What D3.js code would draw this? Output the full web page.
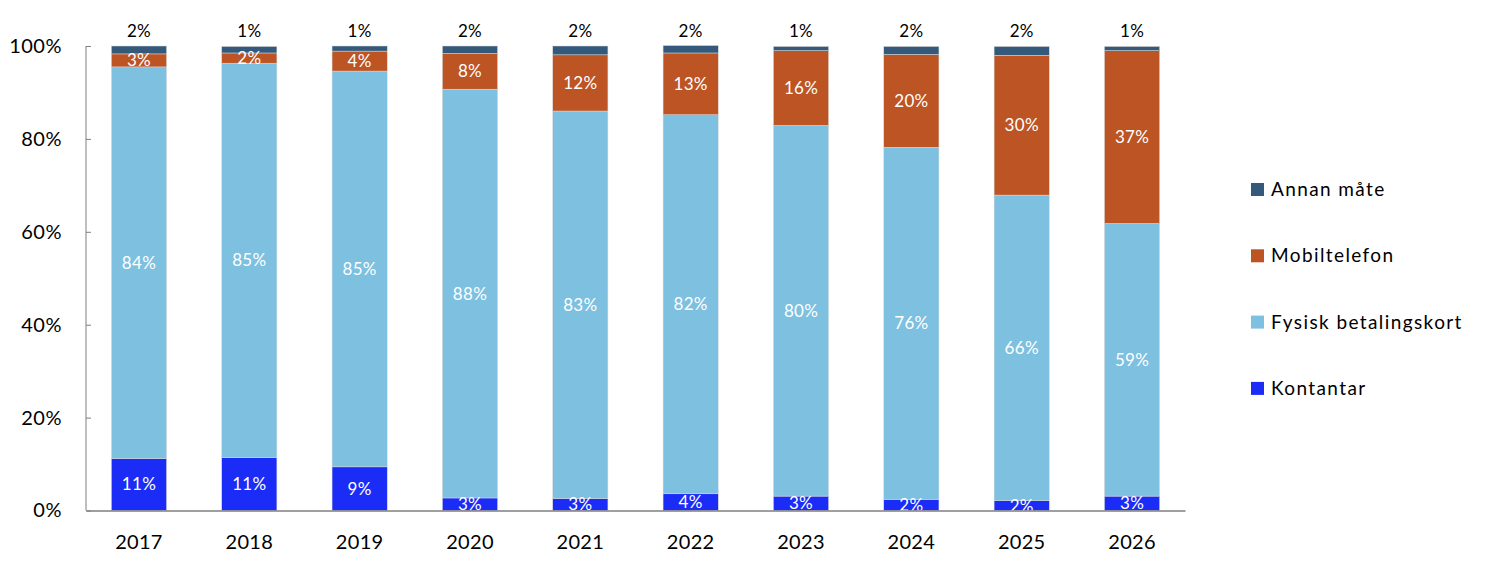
<!DOCTYPE html>
<html>
<head>
<meta charset="utf-8">
<script src="https://cdn.jsdelivr.net/npm/d3@7"></script>
<style>
  body { margin: 0; background: #fff; }
  text { font-family: Lato, "Open Sans", sans-serif; }
</style>
</head>
<body>
<div id="chart"></div>
<script>
const years = ["2017", "2018", "2019", "2020", "2021", "2022", "2023", "2024", "2025", "2026"];
const kontantar = [11.2, 11.4, 9.4, 2.7, 2.6, 3.6, 3.1, 2.4, 2.1, 3.1];
const fysisk = [84.3, 84.9, 85.2, 88.0, 83.4, 81.6, 79.8, 75.8, 65.8, 58.7];
const mobil = [2.8, 2.2, 4.3, 7.7, 12.1, 13.3, 16.1, 20.0, 30.1, 37.2];
const annan = [1.7, 1.4, 1.1, 1.6, 1.9, 1.6, 0.9, 1.7, 1.9, 0.9];
const seriesNames = ["Kontantar", "Fysisk betalingskort", "Mobiltelefon", "Annan måte"];
const yTicks = [0, 20, 40, 60, 80, 100];

const colors = ["#1b2cf7", "#7dc0e0", "#bc5424", "#34597a"];
const labelColors = ["white", "white", "white", "black"];

const wSvg = 1504;
const hSvg = 578;
const xLeft = 86;
const xRight = 1185;
const yTop = 46;
const yBottom = 510.5;

let rows = years.map((yr, i) => ({
    year: yr,
    "Kontantar": kontantar[i],
    "Fysisk betalingskort": fysisk[i],
    "Mobiltelefon": mobil[i],
    "Annan måte": annan[i]
}));

let stacked = d3.stack().keys(seriesNames)(rows);

let x = d3.scaleBand(years, [xLeft, xRight]).paddingInner(0.5).paddingOuter(0.23);
let y = d3.scaleLinear([0, 100], [yBottom, yTop]);

let svg = d3.select("#chart")
    .append("svg")
    .attr("width", wSvg)
    .attr("height", hSvg);

// bars
svg.append("g")
    .selectAll("g")
    .data(stacked)
    .enter()
    .append("g")
    .attr("fill", (d, i) => colors[i])
    .selectAll("rect")
    .data(d => d)
    .enter()
    .append("rect")
    .attr("x", d => x(d.data.year))
    .attr("width", x.bandwidth())
    .attr("y", d => y(d[1]))
    .attr("height", d => y(d[0]) - y(d[1]))
    .attr("stroke", "#d9d9d9")
    .attr("stroke-width", 0.5);

// labels
stacked.forEach((s, si) => {
    svg.append("g")
        .selectAll("text")
        .data(s)
        .enter()
        .append("text")
        .attr("x", d => x(d.data.year) + x.bandwidth() / 2)
        .attr("y", d => si == 3 ? y(d[1]) - 9 : (y(d[0]) + y(d[1])) / 2 + 6)
        .attr("text-anchor", "middle")
        .attr("fill", labelColors[si])
        .style("font-size", "17px")
        .style("letter-spacing", "0.3px")
        .text(d => Math.round(d[1] - d[0]) + "%");
});

// axes
let yAxis = d3.axisLeft(y).tickValues(yTicks).tickFormat(d => d + "%").tickSize(-5).tickPadding(24);
svg.append("g")
    .attr("transform", `translate(${xLeft}, 0)`)
    .call(yAxis)
    .call(g => g.select(".domain").attr("stroke", "#7f7f7f").attr("d", `M0,${yTop}V${yBottom}`))
    .call(g => g.selectAll(".tick line").attr("stroke", "#7f7f7f"))
    .call(g => g.selectAll("text").attr("fill", "black").style("font-size", "20px").style("letter-spacing", "0.5px"));

let xAxis = d3.axisBottom(x).tickSize(0).tickPadding(24);
svg.append("g")
    .attr("transform", `translate(0, ${yBottom})`)
    .call(xAxis)
    .call(g => g.select(".domain").attr("stroke", "#7f7f7f").attr("stroke-width", 1.5))
    .call(g => g.selectAll("text").attr("fill", "black").style("font-size", "20px").style("letter-spacing", "0.3px"));

// legend
let legendOrder = ["Annan måte", "Mobiltelefon", "Fysisk betalingskort", "Kontantar"];
let legend = svg.append("g")
    .selectAll("g")
    .data(legendOrder)
    .enter()
    .append("g")
    .attr("transform", (d, i) => `translate(1251, ${183 + i * 66.3})`);

legend.append("rect")
    .attr("width", 13)
    .attr("height", 13)
    .attr("fill", d => colors[seriesNames.indexOf(d)]);

legend.append("text")
    .attr("x", 20)
    .attr("y", 13)
    .attr("fill", "black")
    .style("font-size", "19px")
    .style("letter-spacing", "1.4px")
    .text(d => d);
</script>
</body>
</html>
